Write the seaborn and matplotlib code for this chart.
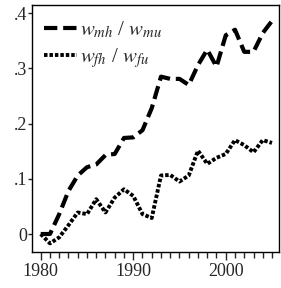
import numpy as np
import pandas as pd
import seaborn as sns
import matplotlib.pyplot as plt
from matplotlib.ticker import FixedLocator, MultipleLocator


years = list(range(1980, 2006))

# w_mh / w_mu
male_ratio = [0.0, 0.0, 0.036, 0.078, 0.106, 0.121, 0.126, 0.143, 0.145, 0.174,
              0.175, 0.188, 0.228, 0.285, 0.281, 0.281, 0.270, 0.306, 0.334, 0.303,
              0.360, 0.370, 0.330, 0.330, 0.364, 0.386]

# w_fh / w_fu
female_ratio = [0.0, -0.017, -0.006, 0.016, 0.039, 0.036, 0.063, 0.039, 0.066, 0.081,
                0.069, 0.036, 0.029, 0.106, 0.107, 0.095, 0.106, 0.151, 0.127, 0.138,
                0.145, 0.170, 0.161, 0.148, 0.170, 0.165]

labels = [r'$w_{mh}$ / $w_{mu}$', r'$w_{fh}$ / $w_{fu}$']
ytick_vals = [0, 0.1, 0.2, 0.3, 0.4]
ytick_labels = ['0', '.1', '.2', '.3', '.4']
xtick_vals = [1980, 1990, 2000]


df = pd.concat([
    pd.DataFrame({'year': years, 'value': male_ratio, 'series': labels[0]}),
    pd.DataFrame({'year': years, 'value': female_ratio, 'series': labels[1]}),
])

sns.set_style('white')
plt.rcParams['font.family'] = ['Liberation Serif', 'DejaVu Serif']
plt.rcParams['mathtext.fontset'] = 'stix'

fig = plt.figure(figsize=(2.81, 2.88), dpi=100)
ax = fig.add_axes([0.114, 0.125, 0.879, 0.858])

sns.lineplot(data=df, x='year', y='value', style='series', ax=ax,
             color='black', dashes={labels[0]: (3.2, 1.4), labels[1]: (0.9, 0.5)},
             legend=False)
ax.lines[0].set_linewidth(3.0)
ax.lines[1].set_linewidth(2.8)

ax.set_xlim(1979.06, 2005.76)
ax.set_ylim(-0.0326, 0.415)
ax.set_xlabel('')
ax.set_ylabel('')

ax.xaxis.set_major_locator(FixedLocator(xtick_vals))
ax.xaxis.set_minor_locator(MultipleLocator(1))
ax.set_yticks(ytick_vals)
ax.set_yticklabels(ytick_labels)

ax.tick_params(axis='x', which='major', direction='out', length=6, width=1,
               labelsize=13, pad=2, bottom=True)
ax.tick_params(axis='x', which='minor', direction='out', length=4, width=1, bottom=True)
ax.tick_params(axis='y', which='major', direction='out', length=3, width=1,
               labelsize=13, pad=0.5, left=True)

for s in ax.spines.values():
    s.set_color('black')
    s.set_linewidth(1.0)

ax.legend(handles=ax.lines[:2], labels=labels, loc='upper left', frameon=False,
          fontsize=15, handlelength=1.6, handletextpad=0.15, labelspacing=0.3,
          borderpad=0.3, borderaxespad=0.5, bbox_to_anchor=(-0.02, 1.008))

fig.savefig('out.png', dpi=100)
